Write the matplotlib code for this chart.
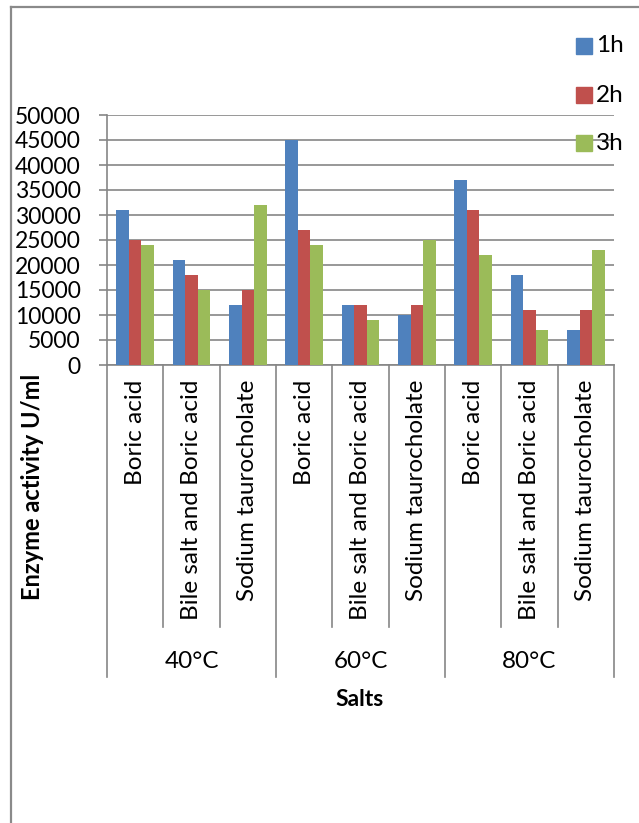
import matplotlib
matplotlib.use("Agg")
import matplotlib.pyplot as plt
import numpy as np
from matplotlib.transforms import blended_transform_factory
from matplotlib.lines import Line2D
from matplotlib.patches import Rectangle

plt.rcParams['font.family'] = ['Lato', 'DejaVu Sans']

temperatures = ["40°C", "60°C", "80°C"]
salts = ["Boric acid", "Bile salt and Boric acid", "Sodium taurocholate"]
series_names = ["1h", "2h", "3h"]
colors = ["#4F81BD", "#C0504D", "#9BBB59"]

activity_1h = [31000, 21000, 12000, 45000, 12000, 10000, 37000, 18000, 7000]
activity_2h = [25000, 18000, 15000, 27000, 12000, 12000, 31000, 11000, 11000]
activity_3h = [24000, 15000, 32000, 24000, 9000, 25000, 22000, 7000, 23000]
series = [activity_1h, activity_2h, activity_3h]

yticks = list(range(0, 50001, 5000))

W, H = 639, 823
fig = plt.figure(figsize=(W / 100, H / 100), dpi=100)

def fx(px):
    return px / W

def fy(py):
    return 1 - py / H

# outer chart frame
fig.add_artist(Line2D([fx(11), fx(11)], [fy(7), 0], color="#8a8a8a", lw=1.6,
                      transform=fig.transFigure))
fig.add_artist(Line2D([fx(11), 1], [fy(7), fy(7)], color="#8a8a8a", lw=1.6,
                      transform=fig.transFigure))

ax = fig.add_axes([fx(107), fy(365), fx(614) - fx(107), fy(115) - fy(365)])

grid_col = "#868686"
n = len(activity_1h)
x = np.arange(n) + 0.5
bw = 1 / 4.5
for i, (vals, c) in enumerate(zip(series, colors)):
    ax.bar(x + (i - 1) * bw, vals, width=bw, color=c, edgecolor="none",
           zorder=3, label=series_names[i])

ax.set_xlim(0, n)
ax.set_ylim(0, 50000)
ax.set_yticks(yticks)
ax.set_yticklabels([str(v) for v in yticks])
ax.yaxis.grid(True, color=grid_col, lw=1.2, zorder=0)
ax.set_xticks([])
for s in ["top", "right"]:
    ax.spines[s].set_visible(False)
for s in ["left", "bottom"]:
    ax.spines[s].set_color(grid_col)
    ax.spines[s].set_linewidth(1.2)
ax.tick_params(axis="y", direction="out", length=6, width=1.2, color=grid_col,
               labelsize=16.5, pad=13, labelcolor="black")

# category axis: separators and labels below the plot
tr = blended_transform_factory(ax.transData, fig.transFigure)
for k in range(n + 1):
    bottom = 677 if k % 3 == 0 else 627
    fig.add_artist(Line2D([k, k], [fy(365), fy(bottom)], color=grid_col, lw=1.2,
                          transform=tr, clip_on=False))
for k in range(n):
    ax.text(k + 0.5, fy(380), salts[k % 3], rotation=90, ha="center", va="top",
            fontsize=17.5, transform=tr)
for g, t in enumerate(temperatures):
    ax.text(g * 3 + 1.5, fy(662), t, ha="center", va="center", fontsize=17.5,
            transform=tr)

fig.text(fx(360), fy(699), "Salts", ha="center", va="center", fontsize=16.5,
         fontweight="bold")
fig.text(fx(33), fy(487), "Enzyme activity U/ml", rotation=90, ha="center",
         va="center", fontsize=17, fontweight="bold")

# legend
for i, (name, c) in enumerate(zip(series_names, colors)):
    yc = [46, 95, 143][i]
    fig.add_artist(Rectangle((fx(576), fy(yc + 8)), fx(592) - fx(576),
                             fy(yc - 8) - fy(yc + 8), color=c,
                             transform=fig.transFigure))
    fig.text(fx(596), fy(yc), name, ha="left", va="center", fontsize=17.5)

fig.savefig("out.png", dpi=100)
